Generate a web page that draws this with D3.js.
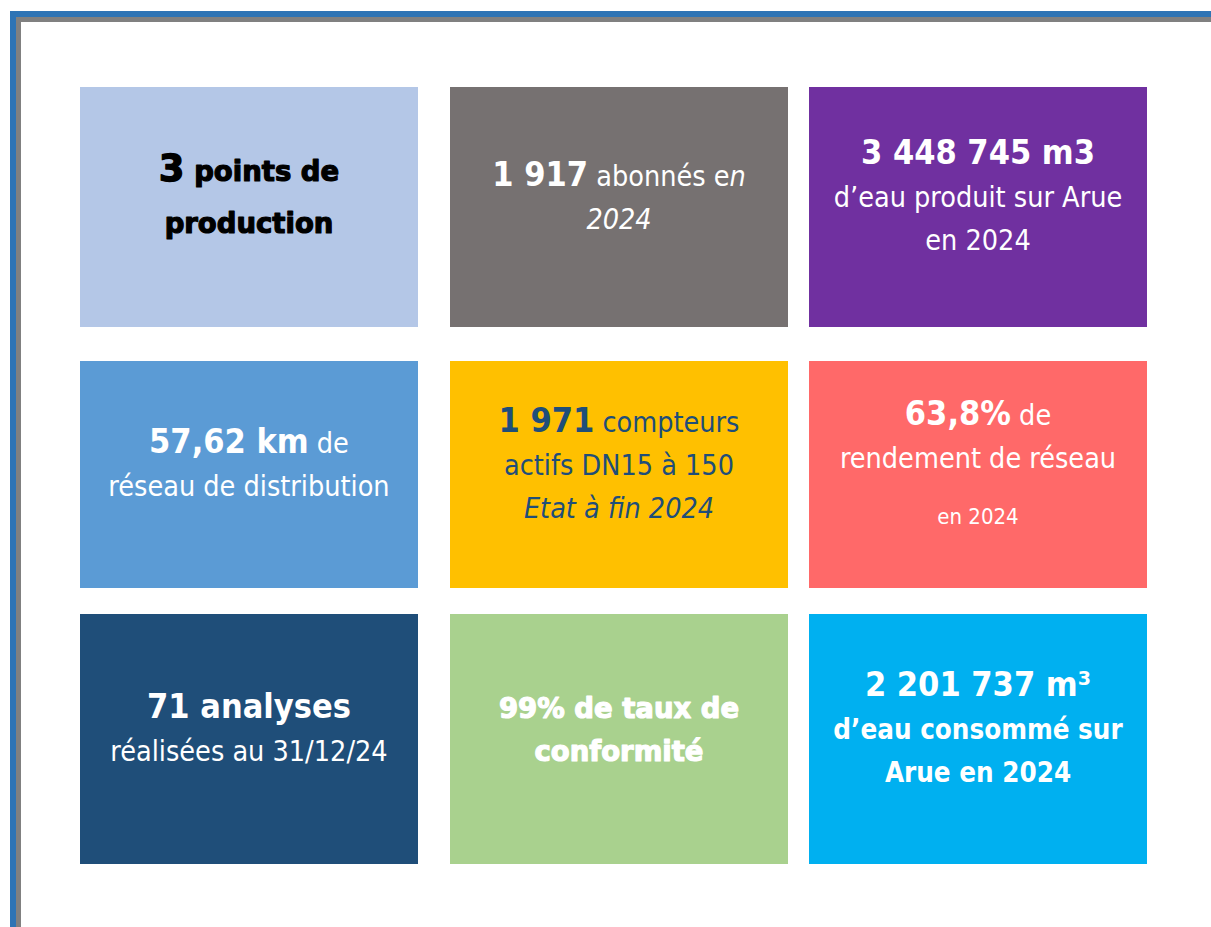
<!DOCTYPE html>
<meta charset="utf-8">
<script src="https://d3js.org/d3.v7.min.js"></script>
<style>
  body { margin: 0; background: #fff; }
  text { white-space: pre; }
</style>
<body>
<svg width="1211" height="927"></svg>
<script>
    // tiles, read row by row, left to right
    var tileCols  = [0, 1, 2, 0, 1, 2, 0, 1, 2];
    var tileRows  = [0, 0, 0, 1, 1, 1, 2, 2, 2];
    var tileLines = [
        [[['3', 'big'], [' points de', 'heavy']], [['production', 'heavy']]],
        [[['1 917', 'num'], [' abonnés e', 'txt'], ['n', 'em']], [['2024', 'em']]],
        [[['3 448 745 m3', 'num']], [['d’eau produit sur Arue', 'txt']], [['en 2024', 'txt']]],
        [[['57,62 km', 'num'], [' de', 'txt']], [['réseau de distribution', 'txt']]],
        [[['1 971', 'num'], [' compteurs', 'txt']], [['actifs DN15 à 150', 'txt']], [['Etat à fin 2024', 'em']]],
        [[['63,8%', 'num'], [' de', 'txt']], [['rendement de réseau', 'txt']], [['en 2024', 'small']]],
        [[['71 analyses', 'num']], [['réalisées au 31/12/24', 'txt']]],
        [[['99% de taux de', 'heavy']], [['conformité', 'heavy']]],
        [[['2 201 737 m³', 'num']], [['d’eau consommé sur', 'strong']], [['Arue en 2024', 'strong']]]
    ];

    var fills = ['#B4C7E7', '#767171', '#7030A0', '#5B9BD5', '#FFC000', '#FF6969', '#1F4E79', '#A9D18E', '#00B0F0'];
    var inks  = ['#000000', '#FFFFFF', '#FFFFFF', '#FFFFFF', '#1F4E79', '#FFFFFF', '#FFFFFF', '#FFFFFF', '#FFFFFF'];

    var cond  = '"DejaVu Sans Condensed", "DejaVu Sans", sans-serif';
    var heavy = '"DejaVu Sans", sans-serif';
    var kinds = {
        big:    {family: heavy, size: 37,   weight: 'bold',   style: 'normal', stroke: 1.3},
        heavy:  {family: heavy, size: 27.5, weight: 'bold',   style: 'normal', stroke: 1.2},
        num:    {family: cond,  size: 34,   weight: 'bold',   style: 'normal', stroke: 0},
        strong: {family: cond,  size: 27.5, weight: 'bold',   style: 'normal', stroke: 0},
        txt:    {family: cond,  size: 28.5, weight: 'normal', style: 'normal', stroke: 0},
        em:     {family: cond,  size: 28.5, weight: 'normal', style: 'italic', stroke: 0},
        small:  {family: cond,  size: 22,   weight: 'normal', style: 'normal', stroke: 0}
    };

    var svg = d3.select('svg');

    // page frame: blue rule with a grey shadow on top and left
    svg.append('rect').attr('x', 10).attr('y', 11).attr('width', 1201).attr('height', 6).attr('fill', '#2E74B5');
    svg.append('rect').attr('x', 10).attr('y', 11).attr('width', 6).attr('height', 916).attr('fill', '#2E74B5');
    svg.append('rect').attr('x', 16).attr('y', 17).attr('width', 1195).attr('height', 5).attr('fill', '#808080');
    svg.append('rect').attr('x', 16).attr('y', 17).attr('width', 5).attr('height', 910).attr('fill', '#808080');

    var colX   = d3.scaleOrdinal().domain([0, 1, 2]).range([80, 450, 809]);
    var rowY   = d3.scaleOrdinal().domain([0, 1, 2]).range([87, 361, 614]);
    var rowH   = d3.scaleOrdinal().domain([0, 1, 2]).range([240, 227, 250]);
    var tileW  = 338;

    function gapBefore(line, prev){
        if (line.some(function(s){ return s[1] === 'small'; })) return 56;
        if (prev.some(function(s){ return s[1] === 'big'; })) return 52;
        return 43;
    }

    var tiles = svg.selectAll('g.tile')
        .data(tileLines.map(function(lines, i){
            return {lines: lines, col: tileCols[i], row: tileRows[i], fill: fills[i], ink: inks[i]};
        }))
        .enter()
        .append('g')
        .attr('class', 'tile')
        .attr('transform', function(d){ return 'translate(' + colX(d.col) + ',' + rowY(d.row) + ')'; });

    tiles.append('rect')
        .attr('width', tileW)
        .attr('height', function(d){ return rowH(d.row); })
        .attr('fill', function(d){ return d.fill; });

    tiles.each(function(d){
        var g = d3.select(this);
        var gaps = d.lines.map(function(line, i){ return i ? gapBefore(line, d.lines[i - 1]) : 0; });
        var span = d3.sum(gaps);
        var y = rowH(d.row) / 2 - span / 2;
        d.lines.forEach(function(line, i){
            y += gaps[i];
            var t = g.append('text')
                .attr('x', tileW / 2)
                .attr('y', y)
                .attr('text-anchor', 'middle')
                .attr('fill', d.ink);
            t.selectAll('tspan')
                .data(line)
                .enter()
                .append('tspan')
                .text(function(s){ return s[0]; })
                .attr('font-family', function(s){ return kinds[s[1]].family; })
                .attr('font-size', function(s){ return kinds[s[1]].size; })
                .attr('font-weight', function(s){ return kinds[s[1]].weight; })
                .attr('font-style', function(s){ return kinds[s[1]].style; })
                .attr('stroke', function(s){ return kinds[s[1]].stroke ? d.ink : 'none'; })
                .attr('stroke-width', function(s){ return kinds[s[1]].stroke; })
                .attr('stroke-linejoin', 'round');
        });
    });
</script>
</body>
